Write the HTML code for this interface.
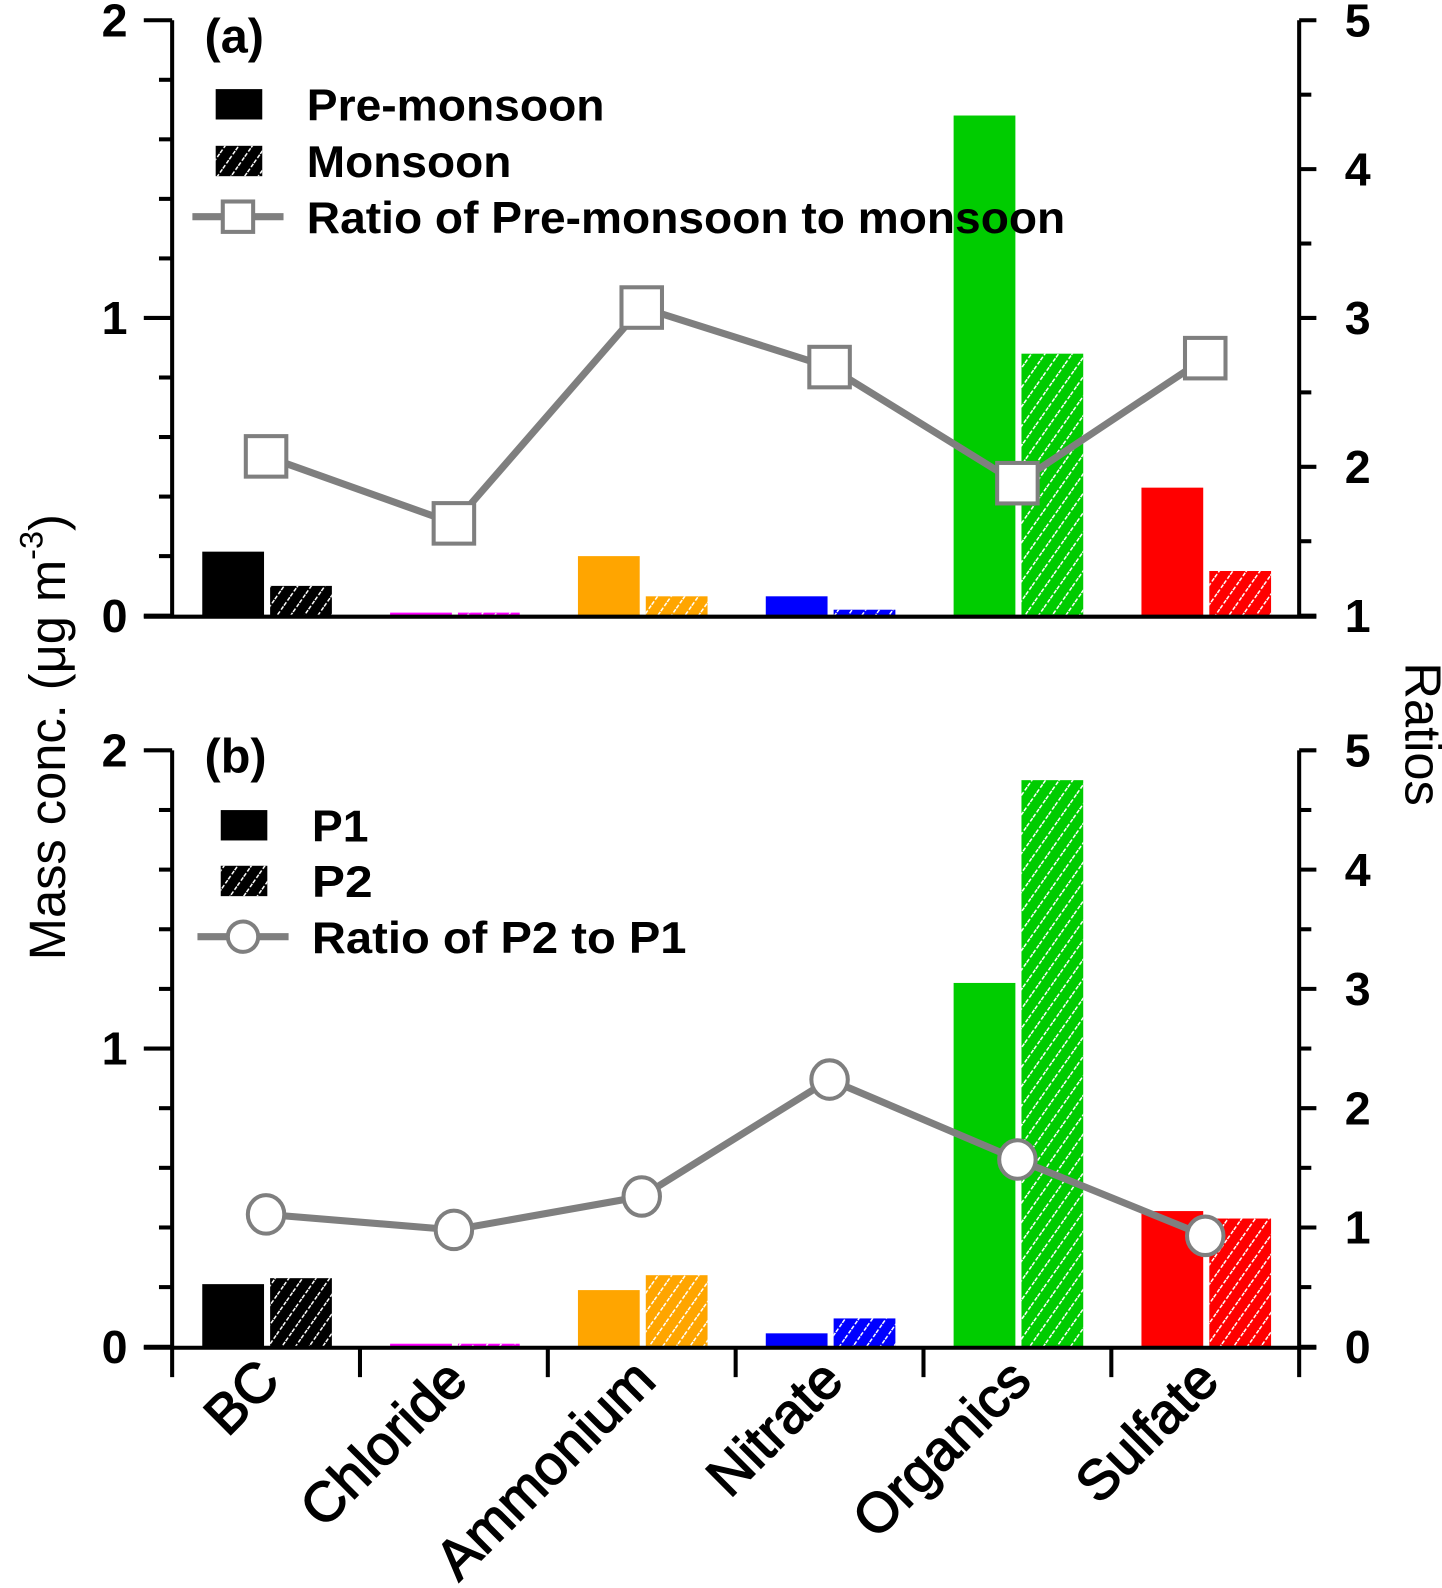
<!DOCTYPE html>
<html><head><meta charset="utf-8"><style>
html,body{margin:0;padding:0;background:#fff;}
svg{display:block;font-family:"Liberation Sans",Arial,sans-serif;}
</style></head><body>
<svg id="chart" width="1442" height="1588" viewBox="0 0 1442 1588" xmlns="http://www.w3.org/2000/svg">
<defs>
<pattern id="hatch" patternUnits="userSpaceOnUse" width="11" height="11" patternTransform="rotate(35)">
<rect width="11" height="11" fill="none"/>
<line x1="0" y1="0" x2="0" y2="11" stroke="#fff" stroke-width="3" stroke-dasharray="4 2"/>
</pattern>
</defs>
<g id="root" transform="scale(1.0126)"></g>
</svg>
<script>
const categories = ["BC","Chloride","Ammonium","Nitrate","Organics","Sulfate"];
const colors = ["#000000","#ff00ff","#ffa500","#0000ff","#00cc00","#ff0000"];
const preMonsoon = [0.215, 0.006, 0.20, 0.065, 1.68, 0.43];
const monsoon = [0.10, 0.004, 0.065, 0.02, 0.88, 0.15];
const ratioA = [2.07, 1.62, 3.07, 2.67, 1.89, 2.73];
const p1 = [0.21, 0.003, 0.19, 0.045, 1.22, 0.455];
const p2 = [0.23, 0.003, 0.24, 0.095, 1.90, 0.43];
const ratioB = [1.11, 0.98, 1.26, 2.24, 1.57, 0.93];
const leftTicks = ["0","1","2"];
const rightTicksA = ["1","2","3","4","5"];
const rightTicksB = ["0","1","2","3","4","5"];

const NS = "http://www.w3.org/2000/svg";
const root = document.getElementById("root");
function mk(tag, attrs, parent){
  const e = document.createElementNS(NS, tag);
  for (const k in attrs) e.setAttribute(k, attrs[k]);
  (parent||root).appendChild(e);
  return e;
}
const X0 = 170, X1 = 1283;
const catW = (X1 - X0) / categories.length;
function xc(i){ return X0 + catW*(i+0.5); }

function panel(cfg){
  const g = mk("g", {});
  
  
  const yL = v => cfg.y0 - (v/2)*(cfg.y0 - cfg.yTop);
  const yR = v => cfg.y0 - (v - cfg.rMin)/(cfg.rMax - cfg.rMin)*(cfg.y0 - cfg.yTop);
  for (let i=0;i<categories.length;i++){
    const c = xc(i);
    const t1 = Math.min(yL(cfg.s1[i]), cfg.y0-3);
    const b1 = mk("rect", {x:c-63, y:t1, width:61, height:cfg.y0-t1, fill:colors[i]}, g);
    
    
    const t2 = Math.min(yL(cfg.s2[i]), cfg.y0-3);
    const b2 = mk("rect", {x:c+4, y:t2, width:61, height:cfg.y0-t2, fill:colors[i]}, g);
    
    
    mk("rect", {x:c+4, y:t2, width:61, height:cfg.y0-t2, fill:"url(#hatch)"}, g);
  }
  mk("line", {x1:X0, y1:cfg.yTop, x2:X0, y2:cfg.y0, stroke:"#000","stroke-width":4}, g);
  mk("line", {x1:X1, y1:cfg.yTop, x2:X1, y2:cfg.y0, stroke:"#000","stroke-width":4}, g);
  mk("line", {x1:142, y1:cfg.y0+1, x2:X1+17, y2:cfg.y0+1, stroke:"#000","stroke-width":4}, g);
  for (let k=0;k<=10;k++){
    const v = k*0.2, y = yL(v);
    const major = k%5===0;
    mk("line", {x1: major?142:157, y1:y, x2:X0, y2:y, stroke:"#000","stroke-width":4}, g);
  }
  leftTicks.forEach((t,j)=>{
    const tl = mk("text", {x:126, y:yL(+t)+16, "text-anchor":"end","font-size":46,"font-weight":"bold"}, g);
    tl.textContent = t;
    
    
  });
  for (let v=cfg.rMin; v<=cfg.rMax+1e-9; v+=0.5){
    const y = yR(v), major = Math.abs(v-Math.round(v))<1e-9;
    mk("line", {x1:X1, y1:y, x2: major?X1+17:X1+12, y2:y, stroke:"#000","stroke-width":4}, g);
  }
  cfg.rTicks.forEach(t=>{
    const tl = mk("text", {x:1328, y:yR(+t)+16, "font-size":46,"font-weight":"bold"}, g);
    tl.textContent = t;
    
    
  });
  const pts = cfg.r.map((v,i)=> xc(i)+","+yR(v)).join(" ");
  const pl = mk("polyline", {points:pts, fill:"none", stroke:"#7f7f7f","stroke-width":7}, g);
  
  
  cfg.r.forEach((v,i)=>{
    let m;
    if (cfg.marker==="square") m = mk("rect", {x:xc(i)-20, y:yR(v)-20, width:40, height:40, fill:"#fff", stroke:"#7f7f7f","stroke-width":4}, g);
    else m = mk("ellipse", {cx:xc(i), cy:yR(v), rx:18, ry:19, fill:"#fff", stroke:"#7f7f7f","stroke-width":4}, g);
    
    
  });
  const tt = mk("text", {x:cfg.tx, y:cfg.ty, "font-size":48,"font-weight":"bold"}, g);
  tt.textContent = cfg.title;
  
  
  const lg = mk("g", {}, g);
  
  
  const L = cfg.leg;
  mk("rect", {x:L.sx, y:L.y1-15, width:46, height:30, fill:"#000"}, lg);
  mk("rect", {x:L.sx, y:L.y2-15, width:46, height:30, fill:"#000"}, lg);
  mk("rect", {x:L.sx, y:L.y2-15, width:46, height:30, fill:"url(#hatch)"}, lg);
  mk("line", {x1:L.lx1, y1:L.y3, x2:L.lx2, y2:L.y3, stroke:"#7f7f7f","stroke-width":7}, lg);
  const mxc = (L.lx1+L.lx2)/2;
  if (cfg.marker==="square") mk("rect", {x:mxc-15, y:L.y3-15, width:30, height:30, fill:"#fff", stroke:"#7f7f7f","stroke-width":4}, lg);
  else mk("circle", {cx:mxc, cy:L.y3, r:15, fill:"#fff", stroke:"#7f7f7f","stroke-width":4}, lg);
  L.labels.forEach((s,j)=>{
    const t = mk("text", {x:L.tx, y:[L.y1,L.y2,L.y3][j]+16, "font-size":44,"font-weight":"bold", textLength:L.lens[j], lengthAdjust:"spacingAndGlyphs"}, lg);
    t.textContent = s;
    
    
  });
  return g;
}

panel({name:"panel-a", y0:608, yTop:20, rMin:1, rMax:5, rTicks:rightTicksA, s1:preMonsoon, s2:monsoon, k1:"pre-monsoon", k2:"monsoon", r:ratioA, marker:"square",
  title:"(a)", tx:202, ty:52,
  leg:{sx:213, y1:103, y2:159, y3:214, lx1:190, lx2:280, tx:303, labels:["Pre-monsoon","Monsoon","Ratio of Pre-monsoon to monsoon"], lens:[294,202,749]}});
panel({name:"panel-b", y0:1330, yTop:741, rMin:0, rMax:5, rTicks:rightTicksB, s1:p1, s2:p2, k1:"p1", k2:"p2", r:ratioB, marker:"circle",
  title:"(b)", tx:202, ty:763,
  leg:{sx:218, y1:815, y2:870, y3:925, lx1:195, lx2:285, tx:308, labels:["P1","P2","Ratio of P2 to P1"], lens:[56,60,370]}});

for (let i=0;i<=categories.length;i++){
  const x = X0 + catW*i;
  const tk = mk("line", {x1:x, y1:1330, x2:x, y2:1360, stroke:"#000","stroke-width":4});
  
  
}
categories.forEach((c,i)=>{
  const bx = xc(i)+16, by = 1366;
  const t = mk("text", {x:bx, y:by, "text-anchor":"end","font-size":55, transform:"rotate(-45 "+bx+" "+by+")", stroke:"#000","stroke-width":1.5});
  t.textContent = c;
  
  
});
const yt = mk("text", {x:0, y:0, "text-anchor":"middle","font-size":50, transform:"translate(64 728) rotate(-90)"});


yt.innerHTML = 'Mass conc. (μg m<tspan dy="-22" font-size="32">-3</tspan><tspan dy="22">)</tspan>';
const rt = mk("text", {x:0, y:0, "text-anchor":"middle","font-size":50, transform:"translate(1388 725) rotate(90)"});
rt.textContent = "Ratios";


</script>
</body></html>
